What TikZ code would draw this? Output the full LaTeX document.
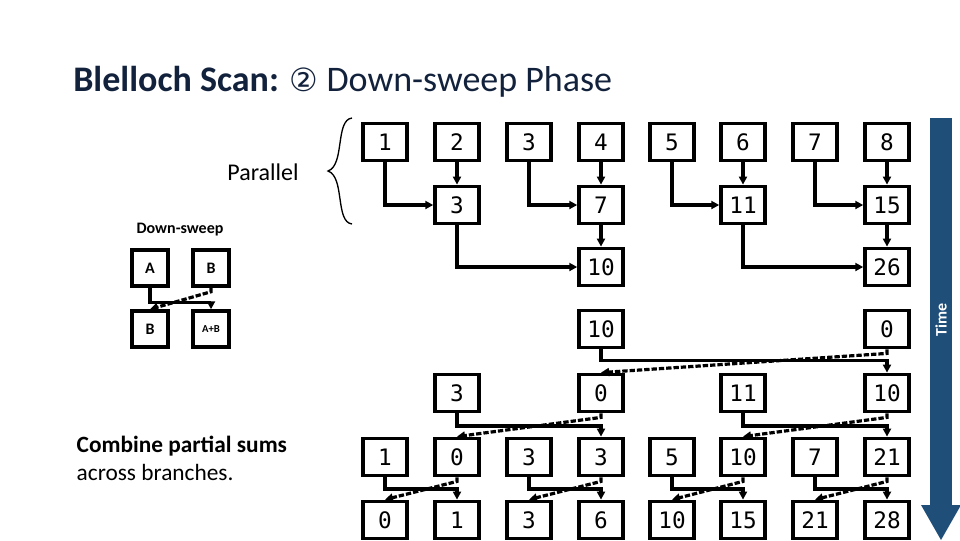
\documentclass[tikz,border=0pt]{standalone}
\usepackage{fontspec}
\setmainfont{Carlito}
\newfontfamily\numfont{DejaVu Sans Mono}
\newfontfamily\symfont{DejaVu Sans}
\usetikzlibrary{arrows.meta,decorations.pathreplacing}
\definecolor{tblue}{HTML}{1F3864}
\definecolor{tbar}{HTML}{1F4E79}
\begin{document}
\begin{tikzpicture}[x=0.75pt,y=-0.75pt,
  cell/.style={draw,line width=2.6pt,minimum width=33pt,minimum height=28pt,inner sep=0pt,font=\numfont\fontsize{17}{17}\selectfont},
  lcell/.style={draw,line width=2.6pt,minimum width=27pt,minimum height=27pt,inner sep=0pt,font=\bfseries\fontsize{12}{12}\selectfont},
  sol/.style={line width=2.4pt,-{Triangle[length=6pt,width=6pt]}},
  das/.style={line width=2.4pt,dash pattern=on 4pt off 1.5pt,-{Triangle[length=6pt,width=6pt]}}]
\useasboundingbox (0,0) rectangle (960,540);
\node[anchor=west,inner sep=0pt,font=\fontsize{27}{27}\selectfont,text=tblue!60!black] (title) at (73,82)
 {\textbf{Blelloch Scan:} {\symfont\fontsize{24}{24}\selectfont②} Down-sweep Phase};
% time bar
\fill[tbar] (930,118) rectangle (952,505);
\fill[tbar] (921,505) -- (961,505) -- (941,540) -- cycle;
\node[rotate=90,text=white,font=\bfseries\fontsize{12}{12}\selectfont] (time) at (941,320) {Time};
% labels
\node[font=\fontsize{18}{18}\selectfont] (par) at (263,172) {Parallel};
\draw[line width=1pt] (352,118) .. controls (335,120) and (345,165) .. (328,171) .. controls (345,177) and (335,222) .. (352,224);
\node[font=\bfseries\fontsize{12}{12}\selectfont] (ds) at (180,230) {Down-sweep};
\node[lcell] (la) at (150,268) {A};
\node[lcell] (lb) at (211,268) {B};
\node[lcell] (lc) at (150,329) {B};
\node[lcell,font=\bfseries\fontsize{8}{8}\selectfont] (ld) at (211,329) {A+B};
\draw[sol] (la.south) |- ([yshift=5pt]ld.north) -- (ld.north);
\draw[das] (lb.south) -- ++(0,4) -- (lc.north);
\node[anchor=west,align=left,font=\fontsize{17.5}{21}\selectfont] (comb) at (72,458) {\textbf{Combine partial sums}\\across branches.};
% columns
\def\cx#1{\ifcase#1\or385\or457\or529\or601\or672\or743\or815\or887\fi}
\foreach \i/\v in {1/1,2/2,3/3,4/4,5/5,6/6,7/7,8/8} \node[cell] (a\i) at (\cx{\i},142) {\v};
\foreach \i/\v in {2/3,4/7,6/11,8/15} \node[cell] (b\i) at (\cx{\i},205) {\v};
\foreach \i/\v in {4/10,8/26} \node[cell] (c\i) at (\cx{\i},267) {\v};
\foreach \i/\v in {4/10,8/0} \node[cell] (d\i) at (\cx{\i},329) {\v};
\foreach \i/\v in {2/3,4/0,6/11,8/10} \node[cell] (e\i) at (\cx{\i},393) {\v};
\foreach \i/\v in {1/1,2/0,3/3,4/3,5/5,6/10,7/7,8/21} \node[cell] (f\i) at (\cx{\i},457) {\v};
\foreach \i/\v in {1/0,2/1,3/3,4/6,5/10,6/15,7/21,8/28} \node[cell] (g\i) at (\cx{\i},520) {\v};
% up-sweep
\foreach \l/\r in {1/2,3/4,5/6,7/8} {
  \draw[sol] (a\l.south) |- (b\r.west);
  \draw[sol] (a\r.south) -- (b\r.north);}
\foreach \l/\r in {2/4,6/8} {
  \draw[sol] (b\l.south) |- (c\r.west);
  \draw[sol] (b\r.south) -- (c\r.north);}
% down-sweep
\draw[sol] (d4.south) |- ([yshift=9pt]e8.north) -- (e8.north);
\draw[das] (d8.south) -- ++(0,4) -- (e4.north);
\foreach \l/\r in {2/4,6/8} {
  \draw[sol] (e\l.south) |- ([yshift=8pt]f\r.north) -- (f\r.north);
  \draw[das] (e\r.south) -- ++(0,4) -- (f\l.north);}
\foreach \l/\r in {1/2,3/4,5/6,7/8} {
  \draw[sol] (f\l.south) |- ([yshift=8pt]g\r.north) -- (g\r.north);
  \draw[das] (f\r.south) -- ++(0,4) -- (g\l.north);}
\end{tikzpicture}
\end{document}
